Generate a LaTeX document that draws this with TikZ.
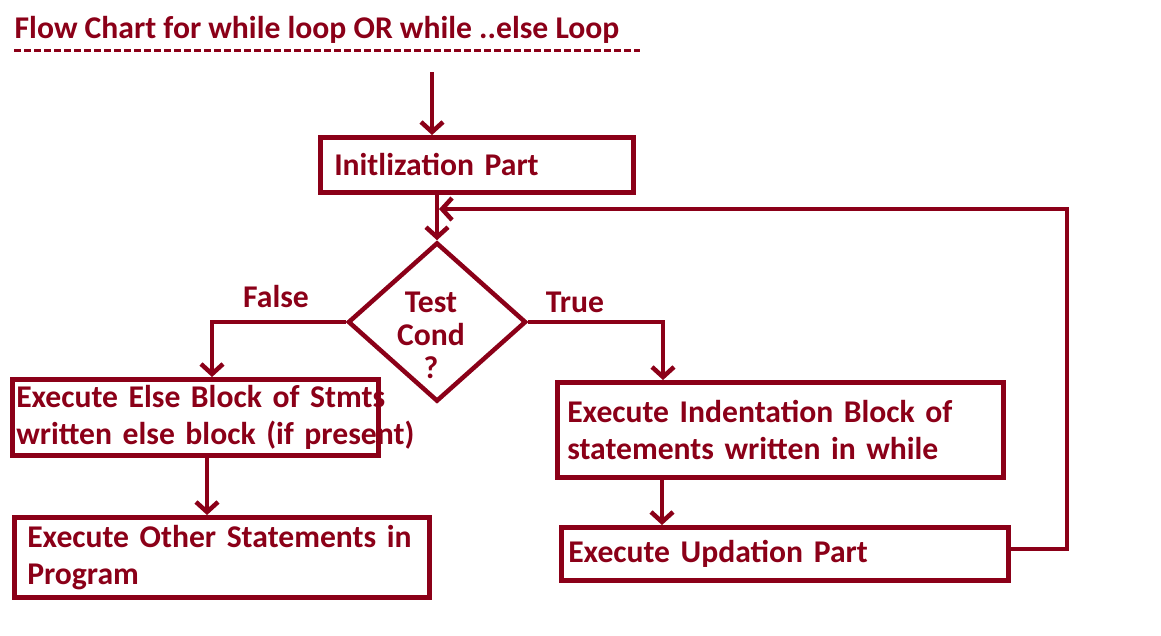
\documentclass[tikz,border=0pt]{standalone}
\usepackage{fontspec}
\setmainfont{Carlito}
\usetikzlibrary{arrows.meta,shapes.geometric}
\definecolor{wine}{HTML}{8B0018}
\def\boxfont{\fontsize{9}{10.5}\selectfont\bfseries}

\tikzset{
  line/.style={draw=wine, line width=0.045cm},
  arr/.style={line, -{Straight Barb[length=0.1cm, width=0.22cm]}},
  box/.style={line, anchor=north west, inner xsep=#1, inner ysep=0pt,
    align=left, text=wine, font=\boxfont},
  cond/.style={line, diamond, inner sep=0pt, minimum width=1.78cm, minimum height=1.59cm},
  lbl/.style={text=wine, font=\boxfont, inner sep=0pt}
}

\begin{document}
\begin{tikzpicture}[x=0.01cm, y=-0.01cm]
      \useasboundingbox (0,0) rectangle (1161,635);

      % title
      \node[lbl, anchor=west] (title) at (14,30) {Flow Chart for while loop OR while ..else Loop};
      \draw[wine, line width=0.03cm, dash pattern=on 0.065cm off 0.035cm] (14,50) -- (640,50);

      % boxes
      \node[box=0.14cm, text width=2.85cm, minimum height=0.55cm] (init) at (318,135) {Initlization Part};
      \node[cond] (dia) at (437,322) {};
      \node[lbl, align=center, font=\fontsize{9}{9.4}\selectfont\bfseries] (condtxt) at (431,335) {Test\\Cond\\?};
      \node[box=0.04cm, text width=3.58cm, minimum height=0.76cm] (els) at (10,377)
        {\mbox{Execute Else Block of Stmts}\\\mbox{written else block (if present)}};
      \node[box=0.13cm, text width=3.89cm, minimum height=0.80cm] (oth) at (12,515)
        {Execute Other Statements in\\Program};
      \node[box=0.10cm, text width=4.26cm, minimum height=0.95cm] (ind) at (555,380)
        {Execute Indentation Block of\\statements written in while};
      \node[box=0.07cm, text width=4.33cm, minimum height=0.53cm] (upd) at (559,525)
        {Execute Updation Part};

      % branch labels
      \node[lbl] (lfalse) at (276,296) {False};
      \node[lbl] (ltrue) at (575,302) {True};

      % connectors
      \coordinate (start) at (432,72);
      \draw[arr] (start) -- (start |- init.north);
      \draw[arr] (dia.north |- init.south) -- (dia.north);
      \draw[arr] (dia.west) -| (212,0 |- els.north);
      \draw[arr] (dia.east) -| (663,0 |- ind.north);
      \draw[arr] (207,0 |- els.south) -- (207,0 |- oth.north);
      \draw[arr] (662,0 |- ind.south) -- (662,0 |- upd.north);

      % loop back
      \coordinate (loopB) at (1067,549);
      \coordinate (loopT) at (1067,209);
      \draw[arr] (upd.east |- loopB) -- (loopB) -- (loopT) -- ([xshift=0.02cm]loopT -| dia.north);
\end{tikzpicture}
\end{document}
